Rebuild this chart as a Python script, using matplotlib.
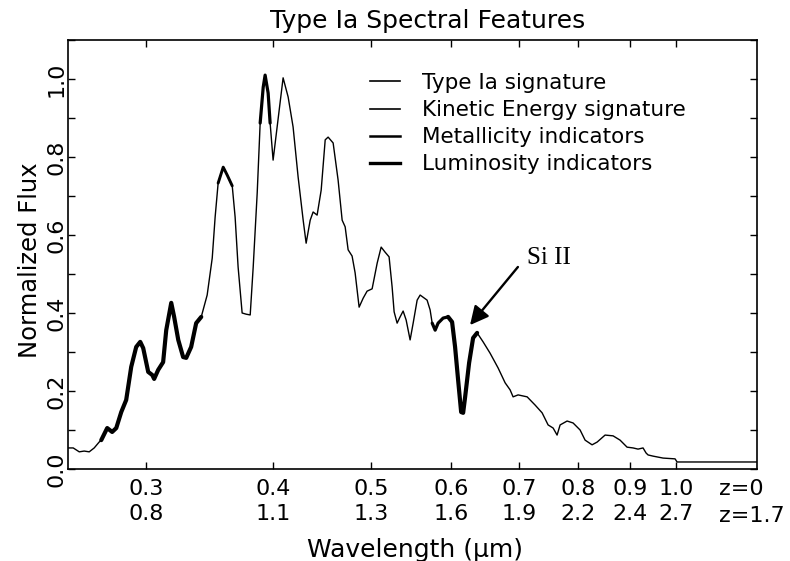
import numpy as np
import matplotlib
matplotlib.use("Agg")
import matplotlib.pyplot as plt
from matplotlib.lines import Line2D
from matplotlib.ticker import MultipleLocator, NullLocator, FixedLocator

# ---- data (wavelength in microns at z=0, normalized flux) ----
wavelength = [0.251, 0.254, 0.2575, 0.2604, 0.2634, 0.2664, 0.2694, 0.2707, 0.2744, 0.2775,
              0.2801, 0.2833, 0.2865, 0.2898, 0.2931, 0.2958, 0.2978, 0.3012, 0.304, 0.3053,
              0.3081, 0.3116, 0.3138, 0.3174, 0.3195, 0.3225, 0.3261, 0.3284, 0.3321, 0.3359,
              0.3398, 0.3444, 0.3484, 0.3507, 0.3531, 0.3572, 0.3604, 0.3646, 0.367, 0.3695,
              0.3729, 0.3763, 0.3798, 0.3824, 0.3859, 0.3885, 0.3912, 0.3929, 0.3956, 0.3974,
              0.4001, 0.4038, 0.4093, 0.414, 0.4187, 0.4235, 0.4284, 0.4313, 0.4353, 0.4382,
              0.4422, 0.4463, 0.4504, 0.4534, 0.4586, 0.4638, 0.4681, 0.4713, 0.4745, 0.4788,
              0.4821, 0.4865, 0.491, 0.4954, 0.5011, 0.5069, 0.5115, 0.5161, 0.5208, 0.5244,
              0.5268, 0.5304, 0.534, 0.5377, 0.5414, 0.5463, 0.5501, 0.5551, 0.5589, 0.5678,
              0.5717, 0.5744, 0.5783, 0.5822, 0.5889, 0.5956, 0.601, 0.6051, 0.6093, 0.6135,
              0.6163, 0.6191, 0.6247, 0.6304, 0.6362, 0.6449, 0.6552, 0.6673, 0.678, 0.6857,
              0.6904, 0.6983, 0.7128, 0.7258, 0.7375, 0.7476, 0.7562, 0.763, 0.7683, 0.7806,
              0.7913, 0.804, 0.8132, 0.8262, 0.8357, 0.851, 0.8666, 0.8805, 0.8946, 0.9069,
              0.9172, 0.9277, 0.9341, 0.9384, 0.9491, 0.9709, 0.9977, 1.0023, 1.202]
flux = [0.054, 0.054, 0.044, 0.046, 0.044, 0.054, 0.069, 0.074, 0.105, 0.095,
        0.105, 0.146, 0.177, 0.262, 0.313, 0.326, 0.31, 0.249, 0.241, 0.231,
        0.254, 0.274, 0.356, 0.426, 0.39, 0.331, 0.287, 0.285, 0.313, 0.374,
        0.39, 0.446, 0.541, 0.646, 0.733, 0.774, 0.754, 0.726, 0.646, 0.518,
        0.4, 0.397, 0.395, 0.518, 0.708, 0.887, 0.979, 1.01, 0.964, 0.887,
        0.792, 0.877, 1.003, 0.954, 0.877, 0.749, 0.638, 0.579, 0.638, 0.659,
        0.651, 0.715, 0.844, 0.851, 0.836, 0.741, 0.638, 0.621, 0.562, 0.546,
        0.503, 0.415, 0.438, 0.456, 0.462, 0.528, 0.569, 0.556, 0.544, 0.467,
        0.403, 0.374, 0.39, 0.405, 0.382, 0.331, 0.374, 0.433, 0.446, 0.433,
        0.408, 0.374, 0.356, 0.374, 0.387, 0.39, 0.377, 0.313, 0.228, 0.146,
        0.144, 0.185, 0.272, 0.336, 0.349, 0.326, 0.297, 0.259, 0.221, 0.203,
        0.185, 0.19, 0.185, 0.164, 0.144, 0.113, 0.105, 0.087, 0.113, 0.123,
        0.118, 0.1, 0.074, 0.062, 0.069, 0.087, 0.085, 0.074, 0.056, 0.054,
        0.051, 0.054, 0.041, 0.036, 0.033, 0.028, 0.026, 0.018, 0.018]

# highlighted spectral features: (low, high) wavelength ranges
type_ia_ranges = [(0.5956, 0.6362)]
kinetic_ranges = [(0.3531, 0.3646)]
metal_ranges = [(0.2707, 0.3398)]
lumin_ranges = [(0.3885, 0.3974), (0.5744, 0.5956)]

tick_wl = [0.3, 0.4, 0.5, 0.6, 0.7, 0.8, 0.9, 1.0]
tick_wl_z0 = ["0.3", "0.4", "0.5", "0.6", "0.7", "0.8", "0.9", "1.0"]
tick_wl_z17 = ["0.8", "1.1", "1.3", "1.6", "1.9", "2.2", "2.4", "2.7"]
legend_labels = ["Type Ia signature", "Kinetic Energy signature",
                 "Metallicity indicators", "Luminosity indicators"]

W, H = 790, 561
fig = plt.figure(figsize=(W / 100, H / 100), dpi=100)
plt.rcParams['font.family'] = ['DejaVu Sans']
ax = fig.add_axes([68 / W, 1 - 469 / H, (757 - 68) / W, (469 - 40) / H])

wl = np.array(wavelength)
fx = np.array(flux)
ax.plot(wl, fx, color='black', lw=1.0, solid_joinstyle='round')


def draw_ranges(ranges, lw):
    for lo, hi in ranges:
        m = (wl >= lo - 1e-6) & (wl <= hi + 1e-6)
        ax.plot(wl[m], fx[m], color='black', lw=lw, solid_capstyle='round',
                solid_joinstyle='round')


draw_ranges(metal_ranges, 3.0)
draw_ranges(kinetic_ranges, 2.1)
draw_ranges(lumin_ranges, 2.3)
draw_ranges(type_ia_ranges, 3.0)

ax.set_xscale('log')
ax.set_xlim(0.251, 1.202)
ax.set_ylim(0, 1.1)
ax.xaxis.set_major_locator(FixedLocator(tick_wl))
ax.xaxis.set_minor_locator(NullLocator())
ax.set_xticklabels([a + "\n" + b for a, b in zip(tick_wl_z0, tick_wl_z17)],
                   fontsize=16, linespacing=1.35)
ax.yaxis.set_major_locator(MultipleLocator(0.2))
ax.yaxis.set_minor_locator(MultipleLocator(0.1))
ax.yaxis.set_major_formatter(matplotlib.ticker.FormatStrFormatter('%.1f'))
for lab in ax.get_yticklabels():
    lab.set_rotation(90)
    lab.set_va('center')
ax.tick_params(axis='both', which='both', direction='in', top=True, right=True,
               length=5, width=1.0)
ax.tick_params(axis='y', which='major', labelsize=16, pad=1)
ax.tick_params(axis='x', which='major', pad=7)
for s in ax.spines.values():
    s.set_linewidth(1.2)

# z labels on the right
fig.text(719 / W, 1 - 489 / H, "z=0", fontsize=16, ha='left', va='center')
fig.text(719 / W, 1 - 516 / H, "z=1.7", fontsize=16, ha='left', va='center')

fig.text(428 / W, 1 - 28 / H, "Type Ia Spectral Features", fontsize=18,
         ha='center', va='baseline')
fig.text(415 / W, 1 - 550 / H, "Wavelength (\u03bcm)", fontsize=18,
         ha='center', va='center')
fig.text(30 / W, 1 - 260 / H, "Normalized Flux", fontsize=17.5, rotation=90,
         ha='center', va='center')

# Si II annotation
ax.annotate('', xy=(0.626, 0.369), xytext=(0.698, 0.518),
            arrowprops=dict(arrowstyle='-|>', color='black', lw=1.7,
                            mutation_scale=28, shrinkA=0, shrinkB=0))
ax.text(0.713, 0.541, "Si II", family='Liberation Serif', fontsize=18, va='center',
        ha='left')

handles = [Line2D([], [], color='black', lw=w) for w in (1.2, 1.2, 1.8, 2.4)]
ax.legend(handles, legend_labels, loc='upper left',
          bbox_to_anchor=(370 / W, 1 - 73 / H), bbox_transform=fig.transFigure,
          frameon=False, fontsize=15.5, handlelength=1.4, handletextpad=1.0,
          labelspacing=0.33, borderpad=0, borderaxespad=0)

fig.savefig("out.png", dpi=100)
